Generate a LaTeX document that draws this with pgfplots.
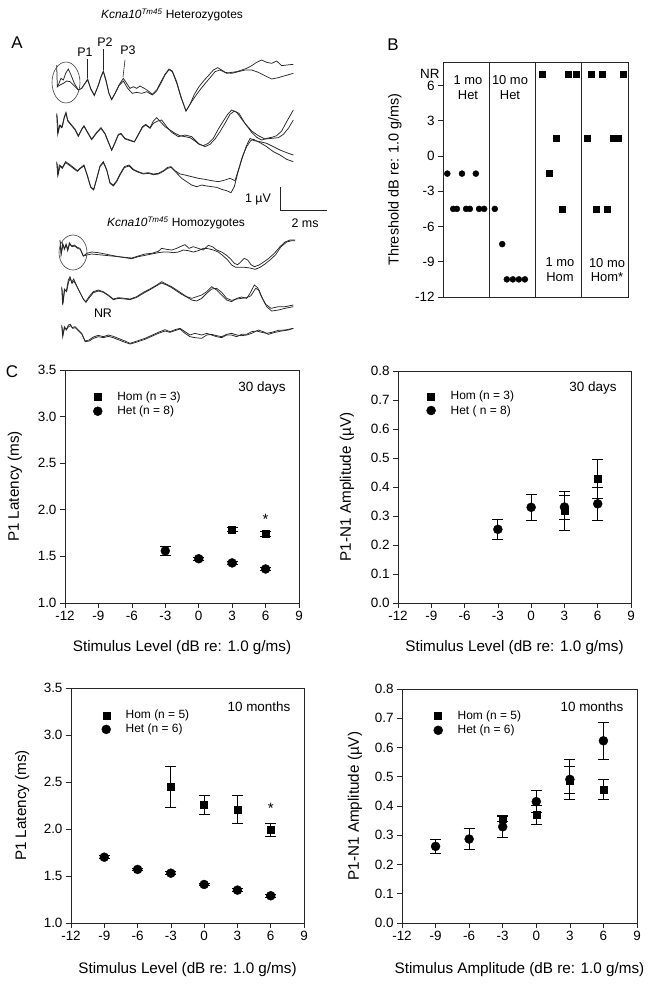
\documentclass[border=0pt]{standalone}
\usepackage{fontspec}
\setmainfont{Liberation Sans}
\usepackage{pgfplots}
\pgfplotsset{compat=1.18}

\pgfplotsset{
 cpanel/.style={scale only axis, anchor=north west, clip=false,
   axis line style={black!85, line width=0.7bp},
   tick align=outside, tick pos=left, major tick length=5bp,
   tick style={black!85, line width=0.7bp},
   /pgf/number format/assume math mode=true,
   ticklabel style={font=\fontsize{13.5}{16}\selectfont},
   label style={font=\fontsize{15.3}{17}\selectfont},
   xmin=-12, xmax=9, xtick={-12,-9,...,9},
   legend style={draw=none, fill=none, inner sep=0pt, font=\fontsize{12}{13}\selectfont, row sep=0bp, anchor=north west, /tikz/every odd column/.style={column sep=13bp}},
   legend cell align=left,
   legend image code/.code={\draw[##1] plot coordinates {(0bp,0bp)};},
   error bars/error bar style={black, line width=0.8bp},
   error bars/error mark options={black, rotate=90, mark size=5.5bp, line width=0.8bp},
 },
 latency/.style={ymin=1, ymax=3.5, ytick={1,1.5,...,3.5},
   yticklabel style={/pgf/number format/fixed,/pgf/number format/fixed zerofill,/pgf/number format/precision=1}},
 amplitude/.style={ymin=0, ymax=0.8, ytick={0,0.1,...,0.8},
   yticklabel style={/pgf/number format/fixed,/pgf/number format/fixed zerofill,/pgf/number format/precision=1}},
 hom/.style={only marks, mark=square*, mark size=3.5bp, black, mark options={fill=black}},
 het/.style={only marks, mark=*, mark size=4.5bp, black, mark options={fill=black}},
 trace/.style={no marks, black!85, line width=0.75bp},
}

\begin{document}
\begin{tikzpicture}
\useasboundingbox (0,0) rectangle (649bp,-985bp);

% ---------------- canvas (panel A traces + annotations) ----------------
\begin{axis}[at={(0,0)}, anchor=north west, scale only axis, width=649bp, height=985bp,
  xmin=0, xmax=649, ymin=0, ymax=985, y dir=reverse, hide axis, clip=false]
% Het trace 1 (origin 45,55)
\addplot[trace] table[x expr=\thisrow{x}/3+45, y expr=\thisrow{y}/3+55] {
x y
35 30
37 95
42 85
48 70
55 75
62 55
70 42
78 60
88 85
100 105
110 100
120 85
128 72
137 100
148 122
160 90
168 65
175 48
183 75
192 115
200 133
210 115
222 90
235 70
245 85
255 100
265 95
275 100
285 93
298 100
310 108
322 118
335 105
348 80
360 58
372 42
382 48
395 80
408 125
423 168
435 148
448 118
462 95
478 75
492 60
505 45
518 38
530 45
545 55
560 52
575 50
590 45
605 40
620 32
635 22
650 15
665 22
680 25
695 18
710 32
725 30
745 28
};
\addplot[trace] table[x expr=\thisrow{x}/3+45, y expr=\thisrow{y}/3+55] {
x y
37 95
45 90
55 85
65 78
75 80
90 95
100 105
110 100
120 85
128 75
137 102
148 120
160 92
168 66
175 50
183 78
192 116
200 134
210 116
222 92
235 78
248 100
262 115
275 112
290 115
305 110
322 120
335 108
348 84
360 60
372 44
382 50
395 84
408 128
423 168
440 140
455 118
470 98
485 80
498 65
510 50
525 45
540 52
560 55
580 50
600 45
620 45
640 52
660 62
680 72
700 68
720 62
745 55
};
% Het trace 2 (origin 45,105)
\addplot[trace] table[x expr=\thisrow{x}/3+45, y expr=\thisrow{y}/3+105] {
x y
35 25
38 88
43 62
50 68
58 35
63 22
68 45
78 58
90 72
100 92
110 72
117 62
127 80
140 102
155 82
168 68
180 85
192 115
200 135
210 112
220 88
228 85
240 100
255 105
268 110
280 88
292 65
302 58
315 68
325 48
335 38
348 52
360 65
375 75
390 85
405 92
420 95
435 98
450 108
462 118
475 122
490 115
505 100
520 72
535 48
548 28
560 15
575 22
590 42
605 62
620 82
635 97
650 105
665 100
680 97
695 92
710 78
725 50
745 15
};
\addplot[trace] table[x expr=\thisrow{x}/3+45, y expr=\thisrow{y}/3+105] {
x y
36 30
40 80
45 60
52 66
58 38
63 25
68 48
78 60
90 74
100 94
110 74
117 64
127 82
140 104
155 84
168 70
180 87
192 117
200 136
210 114
220 90
228 87
240 102
255 107
268 111
280 90
292 68
302 60
315 70
325 55
338 48
350 45
365 65
380 82
400 95
420 90
440 95
460 115
480 125
495 118
510 102
525 80
540 55
555 28
568 18
582 25
600 55
620 78
640 92
660 102
680 100
700 98
715 88
730 70
745 45
};
% Het trace 3 (origin 45,150)
\addplot[trace] table[x expr=\thisrow{x}/3+45, y expr=\thisrow{y}/3+150] {
x y
35 35
38 75
43 45
52 52
62 35
72 42
85 52
97 62
108 52
117 45
127 75
137 110
146 118
155 85
165 48
175 35
185 58
195 98
205 105
215 92
225 72
238 50
252 45
265 58
280 65
295 70
310 68
325 72
340 70
355 62
368 52
378 50
390 62
405 72
420 75
440 80
460 85
480 88
500 92
520 95
540 90
555 85
570 92
580 60
592 20
605 -10
617 -28
626 -32
645 -22
665 -10
685 5
705 15
725 28
745 35
};
\addplot[trace] table[x expr=\thisrow{x}/3+45, y expr=\thisrow{y}/3+150] {
x y
36 40
40 72
45 48
52 55
62 38
72 45
85 55
97 64
108 54
117 48
127 78
137 112
146 120
155 88
165 50
175 38
185 60
195 100
205 108
215 95
225 75
238 53
252 48
265 60
280 67
295 72
310 70
325 74
340 72
355 64
368 55
378 52
390 64
410 85
425 95
440 105
455 110
470 105
485 108
500 110
515 112
530 118
545 122
558 128
568 110
578 70
590 30
603 -10
615 -35
628 -28
645 -25
665 -20
685 -10
705 0
725 8
745 15
};
% Hom trace 1 (origin 45,230)
\addplot[trace] table[x expr=\thisrow{x}/3+45, y expr=\thisrow{y}/3+230] {
x y
45 30
48 75
53 40
58 58
63 42
68 62
73 38
80 48
88 45
97 52
105 55
115 78
125 70
140 66
160 68
180 72
200 76
220 80
240 82
260 84
280 78
300 72
320 70
340 64
350 55
365 58
380 60
395 55
410 48
420 44
432 55
445 50
460 55
475 60
490 46
502 50
515 60
530 66
545 76
558 88
568 100
578 104
588 95
598 85
608 90
618 104
628 110
642 105
656 96
670 86
688 70
705 50
720 36
735 30
750 30
};
\addplot[trace] table[x expr=\thisrow{x}/3+45, y expr=\thisrow{y}/3+230] {
x y
46 35
49 70
54 45
59 55
64 45
69 58
74 42
81 50
89 48
98 55
106 58
115 78
125 75
140 72
160 74
180 76
200 78
220 80
240 83
260 86
280 80
300 76
320 72
340 68
355 66
370 66
385 68
400 66
415 60
430 62
445 66
460 62
475 55
490 56
505 60
520 66
535 78
548 90
560 105
572 112
585 112
600 112
615 114
630 118
645 112
660 102
675 90
692 74
708 50
725 36
740 32
750 32
};
% Hom trace 2 (origin 45,275)
\addplot[trace] table[x expr=\thisrow{x}/3+45, y expr=\thisrow{y}/3+275] {
x y
50 35
53 90
58 42
64 48
70 15
75 5
80 22
86 12
95 32
105 52
115 72
122 80
132 65
145 50
160 45
175 50
190 60
205 72
220 68
240 70
255 72
275 65
295 52
315 42
335 30
350 20
365 28
380 35
395 45
410 55
425 65
440 70
455 65
470 60
485 50
500 35
515 45
530 60
545 75
560 80
575 70
590 66
605 70
615 55
628 30
638 38
648 62
662 88
678 100
700 95
720 95
745 90
};
\addplot[trace] table[x expr=\thisrow{x}/3+45, y expr=\thisrow{y}/3+275] {
x y
51 40
54 85
59 45
65 50
71 20
76 10
81 25
87 18
96 35
106 55
116 74
123 82
133 68
145 53
160 48
175 52
190 62
205 74
220 70
240 72
255 74
275 67
295 55
315 44
335 32
350 24
365 30
380 38
395 48
410 58
425 66
440 75
455 78
470 70
485 55
500 42
515 40
530 52
545 70
560 76
575 72
590 70
605 68
618 62
632 40
642 45
652 70
665 95
680 108
700 105
720 100
745 95
};
% Hom trace 3 (origin 45,275)
\addplot[trace] table[x expr=\thisrow{x}/3+45, y expr=\thisrow{y}/3+275] {
x y
50 150
53 185
58 155
64 165
70 150
76 148
82 158
90 155
100 165
110 175
120 198
132 195
145 186
160 181
175 185
190 180
205 184
220 190
240 198
255 205
270 200
285 195
300 190
320 181
340 172
360 164
375 170
390 164
405 160
420 170
435 180
450 175
470 180
485 175
500 180
515 185
530 188
545 180
560 180
575 185
590 178
605 178
620 170
635 168
650 172
665 175
680 172
700 166
720 165
745 160
};
\addplot[trace] table[x expr=\thisrow{x}/3+45, y expr=\thisrow{y}/3+275] {
x y
51 155
54 180
59 158
65 162
71 155
77 152
83 160
91 158
101 168
111 178
121 200
133 198
145 190
160 185
175 188
190 184
205 188
220 194
240 202
255 207
270 203
285 198
300 193
320 184
340 175
360 168
375 172
390 167
405 162
420 175
435 185
450 188
470 190
485 180
500 178
515 182
530 185
545 178
560 175
575 180
590 182
605 180
620 175
640 165
655 170
670 178
690 172
710 168
730 165
745 160
};
% annotations panel A
\node[font=\fontsize{12}{14}\selectfont] at (axis cs:172,15) {\textit{Kcna10}\textsuperscript{\textit{Tm45}} Heterozygotes};
\node[font=\fontsize{12}{14}\selectfont] at (axis cs:176,223) {\textit{Kcna10}\textsuperscript{\textit{Tm45}} Homozygotes};
\node[font=\fontsize{17}{19}\selectfont] at (axis cs:17,43) {A};
\node[font=\fontsize{17}{19}\selectfont] at (axis cs:393,45) {B};
\node[font=\fontsize{17}{19}\selectfont] at (axis cs:12,372) {C};
\node[font=\fontsize{12.5}{14}\selectfont] at (axis cs:85,52) {P1};
\node[font=\fontsize{12.5}{14}\selectfont] at (axis cs:105,42) {P2};
\node[font=\fontsize{12.5}{14}\selectfont] at (axis cs:128,50) {P3};
\draw[black!85, line width=0.6bp] (axis cs:87,59) -- (axis cs:87,78);
\draw[black!85, line width=0.6bp] (axis cs:103.5,49) -- (axis cs:103.5,70);
\draw[black!85, line width=0.6bp] (axis cs:125,60) -- (axis cs:123,77);
\draw[black!75, line width=0.6bp] (axis cs:66,82.5) ellipse [x radius=14bp, y radius=20.5bp];
\draw[black!75, line width=0.6bp] (axis cs:73,252.5) ellipse [x radius=14bp, y radius=17.5bp];
\draw[black!85, line width=0.7bp] (axis cs:280,187) -- (axis cs:280,210) -- (axis cs:327,210);
\node[font=\fontsize{12.5}{14}\selectfont] at (axis cs:258,199) {1 µV};
\node[font=\fontsize{12.5}{14}\selectfont] at (axis cs:305,223) {2 ms};
\node[font=\fontsize{12.5}{14}\selectfont] at (axis cs:103,313) {NR};
% annotations panel B
\node[font=\fontsize{13}{15}\selectfont, align=center] at (axis cs:468,88) {1 mo\\Het};
\node[font=\fontsize{13}{15}\selectfont, align=center] at (axis cs:510,88) {10 mo\\Het};
\node[font=\fontsize{13}{15}\selectfont, align=center] at (axis cs:560,270) {1 mo\\Hom};
\node[font=\fontsize{13}{15}\selectfont, align=center] at (axis cs:607,270) {10 mo\\Hom*};
% annotations panel C
\node[font=\fontsize{13.5}{15}\selectfont] at (axis cs:262,388) {30 days};
\node[font=\fontsize{13.5}{15}\selectfont] at (axis cs:593,388) {30 days};
\node[font=\fontsize{13.5}{15}\selectfont] at (axis cs:259,707) {10 months};
\node[font=\fontsize{13.5}{15}\selectfont] at (axis cs:592,707) {10 months};
\end{axis}

% ---------------- Panel B ----------------
\begin{axis}[cpanel, at={(443bp,-62bp)}, width=185bp, height=235bp,
  xmin=0, xmax=4, xtick=\empty, ymin=-12, ymax=8, ytick={-12,-9,...,6},
  extra y ticks={7}, extra y tick labels={NR}, extra y tick style={major tick length=0pt},
  ylabel={Threshold dB re: 1.0 g/ms)},
  label style={font=\fontsize{14.5}{17}\selectfont},
  ylabel style={at={(axis description cs:-0.26,0.5)}, anchor=center}]
\draw[black!85, line width=0.7bp] (axis cs:1,-12) -- (axis cs:1,8);
\draw[black!85, line width=0.7bp] (axis cs:2,-12) -- (axis cs:2,8);
\draw[black!85, line width=0.7bp] (axis cs:3,-12) -- (axis cs:3,8);
\addplot[only marks, mark=*, mark size=3bp, black] table {
x y
0.093 -1.5
0.41 -1.5
0.71 -1.5
0.22 -4.5
0.30 -4.5
0.50 -4.5
0.58 -4.5
0.78 -4.5
0.89 -4.5
1.12 -4.5
1.28 -7.5
1.38 -10.5
1.51 -10.5
1.64 -10.5
1.77 -10.5
};
\addplot[only marks, mark=square*, mark size=3bp, black] table {
x y
2.15 7
2.71 7
2.88 7
2.44 1.5
2.29 -1.5
2.58 -4.5
3.21 7
3.44 7
3.90 7
3.11 1.5
3.68 1.5
3.78 1.5
3.32 -4.5
3.55 -4.5
};
\end{axis}

% ---------------- Panel C top left ----------------
\begin{axis}[cpanel, latency, at={(65bp,-370bp)}, width=234bp, height=233bp,
  xlabel={Stimulus Level (dB re: 1.0 g/ms)}, ylabel={P1 Latency (ms)},
  xlabel style={at={(axis description cs:0.5,-0.193)}, anchor=center},
  ylabel style={at={(axis description cs:-0.214,0.5)}, anchor=center},
  legend style={at={(axis description cs:0.12,0.915)}}]
\addplot[hom, error bars/.cd, y dir=both, y explicit] table[x=x, y=y, y error=e] {
x y e
3 1.79 0.02
6 1.74 0.03
};
\addlegendentry{Hom (n = 3)}
\addplot[het, error bars/.cd, y dir=both, y explicit] table[x=x, y=y, y error=e] {
x y e
-3 1.56 0.045
0 1.475 0.015
3 1.43 0.015
6 1.365 0.015
};
\addlegendentry{Het (n = 8)}
\node[font=\fontsize{15}{16}\selectfont] at (axis cs:6,1.9) {*};
\end{axis}

% ---------------- Panel C top right ----------------
\begin{axis}[cpanel, amplitude, at={(398bp,-371bp)}, width=233bp, height=232bp,
  xlabel={Stimulus Level (dB re: 1.0 g/ms)}, ylabel={P1-N1 Amplitude (µV)},
  xlabel style={at={(axis description cs:0.5,-0.194)}, anchor=center},
  ylabel style={at={(axis description cs:-0.219,0.5)}, anchor=center},
  legend style={at={(axis description cs:0.122,0.922)}}]
\addplot[hom, error bars/.cd, y dir=both, y explicit] table[x=x, y=y, y error=e] {
x y e
3 0.318 0.068
6 0.428 0.067
};
\addlegendentry{Hom (n = 3)}
\addplot[het, error bars/.cd, y dir=both, y explicit] table[x=x, y=y, y error=e] {
x y e
-3 0.254 0.034
0 0.330 0.046
3 0.331 0.041
6 0.342 0.058
};
\addlegendentry{Het ( n = 8)}
\end{axis}

% ---------------- Panel C bottom left ----------------
\begin{axis}[cpanel, latency, at={(71bp,-688bp)}, width=233bp, height=235bp,
  xlabel={Stimulus Level (dB re: 1.0 g/ms)}, ylabel={P1 Latency (ms)},
  xlabel style={at={(axis description cs:0.5,-0.2)}, anchor=center},
  ylabel style={at={(axis description cs:-0.21,0.5)}, anchor=center},
  legend style={at={(axis description cs:0.131,0.915)}}]
\addplot[hom, error bars/.cd, y dir=both, y explicit] table[x=x, y=y, y error=e] {
x y e
-3 2.45 0.215
0 2.255 0.10
3 2.205 0.15
6 1.99 0.07
};
\addlegendentry{Hom (n = 5)}
\addplot[het, error bars/.cd, y dir=both, y explicit] table[x=x, y=y, y error=e] {
x y e
-9 1.70 0.015
-6 1.57 0.015
-3 1.53 0.015
0 1.41 0.015
3 1.35 0.015
6 1.29 0.015
};
\addlegendentry{Het (n = 6)}
\node[font=\fontsize{15}{16}\selectfont] at (axis cs:6,2.22) {*};
\end{axis}

% ---------------- Panel C bottom right ----------------
\begin{axis}[cpanel, amplitude, at={(402bp,-689bp)}, width=235bp, height=234bp,
  xlabel={Stimulus Amplitude (dB re: 1.0 g/ms)}, ylabel={P1-N1 Amplitude (µV)},
  xlabel style={at={(axis description cs:0.5,-0.2)}, anchor=center},
  ylabel style={at={(axis description cs:-0.2,0.5)}, anchor=center},
  legend style={at={(axis description cs:0.134,0.915)}}]
\addplot[hom, error bars/.cd, y dir=both, y explicit] table[x=x, y=y, y error=e] {
x y e
-3 0.358 0.01
0 0.369 0.032
3 0.488 0.046
6 0.457 0.035
};
\addlegendentry{Hom (n = 5)}
\addplot[het, error bars/.cd, y dir=both, y explicit] table[x=x, y=y, y error=e] {
x y e
-9 0.262 0.023
-6 0.287 0.035
-3 0.329 0.035
0 0.415 0.037
3 0.491 0.067
6 0.623 0.064
};
\addlegendentry{Het (n = 6)}
\end{axis}
\end{tikzpicture}
\end{document}
